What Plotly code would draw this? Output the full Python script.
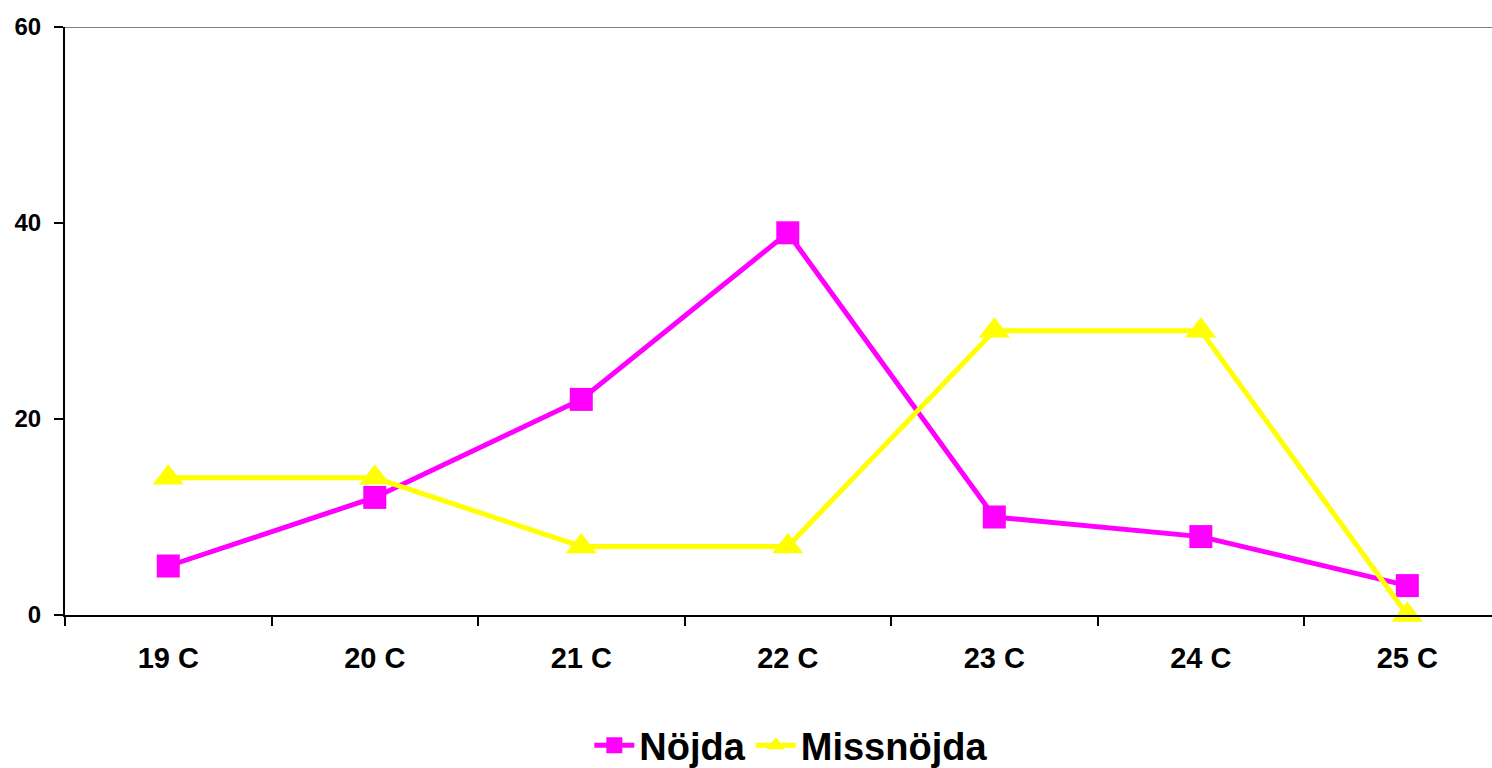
import plotly.graph_objects as go

# Temperature categories and the number of respondents per answer
categories = ["19 C", "20 C", "21 C", "22 C", "23 C", "24 C", "25 C"]
nojda = [5, 12, 22, 39, 10, 8, 3]
missnojda = [14, 14, 7, 7, 29, 29, 0]
y_ticks = [0, 20, 40, 60]

FONT = "Arial, 'Liberation Sans', sans-serif"

fig = go.Figure()
fig.add_trace(go.Scatter(
    x=categories, y=nojda, name="Nöjda", mode="lines+markers",
    line=dict(color="#FF00FF", width=5),
    marker=dict(symbol="square", size=23, color="#FF00FF"),
    cliponaxis=False,
))
fig.add_trace(go.Scatter(
    x=categories, y=missnojda, name="Missnöjda", mode="lines+markers",
    line=dict(color="#FFFF00", width=5),
    marker=dict(symbol="triangle-up", size=27, color="#FFFF00"),
    cliponaxis=False,
))

# grey frame line along the top of the plot area
fig.add_shape(type="line", xref="paper", yref="y", x0=0, x1=1, y0=60, y1=60,
              line=dict(color="#808080", width=2), layer="below")

fig.update_layout(
    width=1492, height=768,
    margin=dict(l=65, r=0, t=27, b=153, autoexpand=False),
    paper_bgcolor="white", plot_bgcolor="white",
    font=dict(family=FONT, color="black", weight="bold"),
    showlegend=True,
    legend=dict(
        orientation="h", x=0.509, xanchor="center", y=-0.222, yanchor="middle",
        font=dict(size=38, family=FONT, weight="bold"),
        itemwidth=40, tracegroupgap=0,
    ),
)
fig.update_xaxes(
    type="category", range=[-0.5, 6.41],
    showline=True, linecolor="black", linewidth=2,
    ticks="outside", tickson="boundaries", ticklen=9, tickwidth=2, tickcolor="black",
    showgrid=False, zeroline=False, ticklabelstandoff=16,
    tickfont=dict(size=29, family=FONT, weight="bold"),
)
fig.update_yaxes(
    range=[0, 60], tickvals=y_ticks,
    showline=True, linecolor="black", linewidth=2,
    ticks="outside", ticklen=9, tickwidth=2, tickcolor="black",
    showgrid=False, zeroline=False, ticklabelstandoff=8,
    tickfont=dict(size=24, family=FONT, weight="bold"),
)

fig.write_html("out.html")
